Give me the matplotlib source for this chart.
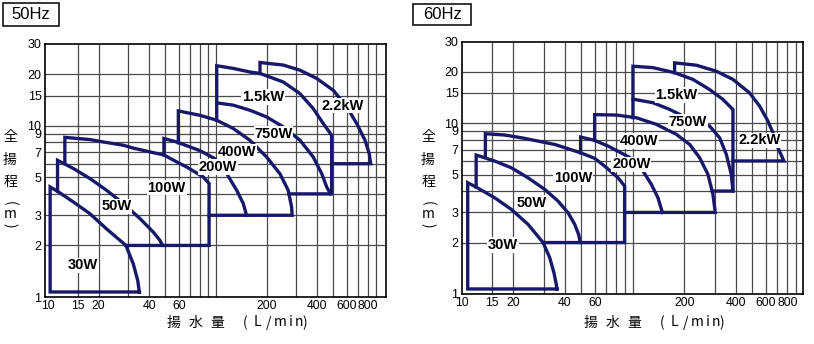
import matplotlib
matplotlib.use('Agg')
import matplotlib.pyplot as plt
from matplotlib.patches import Rectangle
from matplotlib.ticker import NullLocator

plt.rcParams['font.family'] = ['Liberation Sans', 'Noto Sans CJK JP', 'DejaVu Sans']

#%%
# pump range outlines, flow (L/min) vs total head (m)
#----------#
# 50Hz
q50_30w = [35.0, 10.3, 10.3, 11.4, 14.2, 17.8, 22.3, 29.1, 32.2, 34.2, 35.0]
h50_30w = [1.07, 1.07, 4.39, 4.14, 3.58, 3.06, 2.50, 2.0, 1.56, 1.25, 1.07]
q50_50w = [11.4, 11.4, 14.2, 17.8, 22.3, 28.1, 35.3, 42.4, 46.4, 48.2, 29.1]
h50_50w = [4.14, 6.28, 5.62, 4.91, 4.20, 3.51, 2.87, 2.39, 2.14, 2.0, 2.0]
q50_100w = [12.6, 12.6, 17.8, 20.4, 28.1, 32.2, 40.5, 49.0, 55.7, 66.9, 84.0, 91.0, 91.0, 48.2]
h50_100w = [6.1, 8.55, 8.30, 8.10, 7.69, 7.40, 7.03, 6.75, 6.30, 5.74, 5.02, 4.60, 2.0, 2.0]
q50_200w = [49.0, 49.0, 58.3, 80.3, 101, 115.8, 132.8, 145.4, 152]
h50_200w = [6.75, 8.42, 8.04, 7.15, 6.34, 5.25, 4.20, 3.51, 3.0]
q50_400w = [59.7, 59.7, 80.3, 101, 126.8, 159, 200, 240, 269, 282, 284, 91.0]
h50_400w = [7.95, 12.2, 11.5, 10.77, 9.63, 8.23, 6.57, 5.25, 4.20, 3.35, 3.0, 3.0]
q50_750w = [101, 126.8, 159, 200, 251.6, 316, 379, 426, 456, 480]
h50_750w = [13.6, 13.18, 12.32, 11.26, 9.84, 8.23, 6.57, 5.25, 4.39, 4.0]
q50_1500w = [101, 101, 126.8, 159, 182.8, 251.6, 316, 379, 435, 488, 488, 272]
h50_1500w = [10.77, 22.4, 21.6, 20.6, 20.2, 18.0, 15.4, 12.6, 10.3, 8.8, 4.0, 4.0]
q50_2200w = [182.8, 182.8, 251.6, 316, 397, 499, 600, 688, 771, 817, 833, 488]
h50_2200w = [20.2, 23.4, 22.6, 21.1, 18.9, 16.1, 12.9, 10.3, 8.23, 6.88, 6.0, 6.0]

# 60Hz
q60_30w = [35.9, 10.8, 10.8, 12.1, 15.5, 19.4, 24.3, 29.8, 32.6, 34.5, 35.6, 35.9]
h60_30w = [1.07, 1.07, 4.48, 4.22, 3.66, 3.13, 2.56, 2.0, 1.63, 1.33, 1.14, 1.07]
q60_50w = [12.1, 12.1, 15.5, 19.4, 24.3, 30.4, 36.4, 41.7, 45.6, 48.1, 49.2, 29.8]
h60_50w = [4.22, 6.5, 6.0, 5.48, 4.79, 4.10, 3.50, 2.99, 2.56, 2.23, 2.0, 2.0]
q60_100w = [13.7, 13.7, 17.8, 22.3, 34.8, 49.4, 59.7, 68.3, 81.7, 89.4, 89.4, 49.2]
h60_100w = [6.3, 8.66, 8.51, 8.20, 7.50, 6.70, 6.22, 5.60, 4.79, 4.28, 2.0, 2.0]
q60_200w = [49.4, 49.4, 59.7, 71.4, 95.6, 114.4, 128.1, 140, 148.6]
h60_200w = [6.70, 8.28, 7.92, 7.34, 6.3, 5.24, 4.38, 3.66, 3.0]
q60_400w = [59.7, 59.7, 80, 104.7, 137, 179.4, 214.5, 245.5, 274.6, 293.7, 303, 89.4]
h60_400w = [7.92, 11.2, 11.14, 10.74, 9.83, 8.59, 7.50, 6.27, 5.01, 3.83, 3.0, 3.0]
q60_750w = [100, 130.9, 163.9, 205.3, 280.9, 321.4, 351.7, 376, 384.6]
h60_750w = [13.8, 13.15, 12.02, 10.74, 9.60, 8.20, 6.56, 5.01, 4.0]
q60_1500w = [100, 100, 130.9, 175.3, 224.4, 280.9, 336, 384.6, 384.6, 291]
h60_1500w = [10.75, 21.5, 21.1, 19.7, 18.0, 15.7, 13.75, 12.0, 4.0, 4.0]
q60_2200w = [175.3, 175.3, 234.9, 307.5, 384.6, 481.5, 550.7, 615.8, 658.8, 704.7, 764, 384.6]
h60_2200w = [19.7, 22.5, 21.8, 20.1, 18.0, 15.0, 12.57, 10.27, 8.78, 7.17, 6.0, 6.0]

models = ['30W', '50W', '100W', '200W', '400W', '750W', '1.5kW', '2.2kW']
label_q50 = [16.1, 25.6, 50.9, 103, 133, 220, 191, 571]
label_h50 = [1.53, 3.38, 4.35, 5.74, 7.03, 9.0, 14.7, 13.1]
label_q60 = [17.4, 25.5, 44.6, 97.8, 109.2, 209, 179.4, 550]
label_h60 = [1.93, 3.42, 4.79, 5.74, 7.86, 10.2, 14.6, 7.93]

x_ticks = [10, 15, 20, 40, 60, 200, 400, 600, 800]
y_ticks = [1, 2, 3, 5, 7, 9, 10, 15, 20, 30]
grid_q = [15, 20, 30, 40, 50, 60, 70, 80, 90, 100, 200, 300, 400, 500, 600, 700, 800, 900]
grid_h = [2, 3, 4, 5, 6, 7, 8, 9, 10, 15, 20]

#%%
W, H = 814, 344
line_c = '#18186a'

def px(x, y, w=0, h=0):
    return [x / W, 1 - (y + h) / H, w / W, h / H]

fig = plt.figure(figsize=(W / 100, H / 100), dpi=100)
ax1 = fig.add_axes(px(45, 44, 341, 253))
ax2 = fig.add_axes(px(462, 41.5, 341, 252.5))

panels = [
    (ax1, (9.6, 1028),
     [(q50_30w, h50_30w), (q50_50w, h50_50w), (q50_100w, h50_100w), (q50_200w, h50_200w),
      (q50_400w, h50_400w), (q50_750w, h50_750w), (q50_1500w, h50_1500w), (q50_2200w, h50_2200w)],
     label_q50, label_h50),
    (ax2, (10, 988),
     [(q60_30w, h60_30w), (q60_50w, h60_50w), (q60_100w, h60_100w), (q60_200w, h60_200w),
      (q60_400w, h60_400w), (q60_750w, h60_750w), (q60_1500w, h60_1500w), (q60_2200w, h60_2200w)],
     label_q60, label_h60),
]

for ax, xlim, outlines, lq, lh in panels:
    ax.set_xscale('log')
    ax.set_yscale('log')
    ax.set_xlim(*xlim)
    ax.set_ylim(1, 30)
    for g in grid_q:
        ax.axvline(g, color='#4a4a4a', lw=0.9, zorder=1)
    for g in grid_h:
        ax.axhline(g, color='#4a4a4a', lw=0.9, zorder=1)
    for q, h in outlines:
        ax.plot(q, h, color=line_c, lw=2.4, solid_joinstyle='miter', zorder=3)
    for name, x, y in zip(models, lq, lh):
        ax.text(x, y, name, ha='center', va='center', fontsize=10.5, fontweight='bold',
                zorder=4, bbox=dict(facecolor='white', edgecolor='none', pad=0.5))
    ax.set_xticks(x_ticks)
    ax.set_xticklabels([str(t) for t in x_ticks])
    ax.set_yticks(y_ticks)
    ax.set_yticklabels([str(t) for t in y_ticks])
    ax.xaxis.set_minor_locator(NullLocator())
    ax.yaxis.set_minor_locator(NullLocator())
    ax.tick_params(length=0, pad=2.5)
    ax.tick_params(axis='x', labelsize=8.8)
    ax.tick_params(axis='y', labelsize=9)
    for s in ax.spines.values():
        s.set_linewidth(1.2)
        s.set_zorder(5)

# axis titles, set one glyph at a time
x_chars = ['揚', '水', '量', '(', 'L', '/', 'm', 'i', 'n', ')']
x_offs = [128.5, 150.5, 172.5, 200.5, 212.5, 224, 235, 245.5, 254, 260]
y_chars = ['全', '揚', '程', '(', 'm', ')']
y_offs = [137.5, 160, 181.5, 203, 214, 225]
y_rot = [0, 0, 0, -90, 0, -90]
for left, ylab_x in [(45, 10), (462, 428)]:
    for c, o in zip(x_chars, x_offs):
        fig.text((left + o) / W, 1 - 322.5 / H, c, ha='center', va='center', fontsize=10,
                 family=['Noto Sans CJK JP', 'DejaVu Sans'])
    for c, o, r in zip(y_chars, y_offs, y_rot):
        fig.text(ylab_x / W, 1 - o / H, c, ha='center', va='center', fontsize=10,
                 rotation=r, family=['Noto Sans CJK JP', 'DejaVu Sans'])

# frequency tags
for x0, y0, w, h, tag in [(3, 3, 56, 23, '50Hz'), (413, 4, 58, 21, '60Hz')]:
    fig.add_artist(Rectangle((x0 / W, 1 - (y0 + h) / H), w / W, h / H,
                             transform=fig.transFigure, fill=False, lw=1.1, color='black'))
    fig.text((x0 + w / 2) / W, 1 - (y0 + h / 2) / H, tag, ha='center', va='center', fontsize=12)

fig.savefig('out.png', dpi=100, facecolor='white')
